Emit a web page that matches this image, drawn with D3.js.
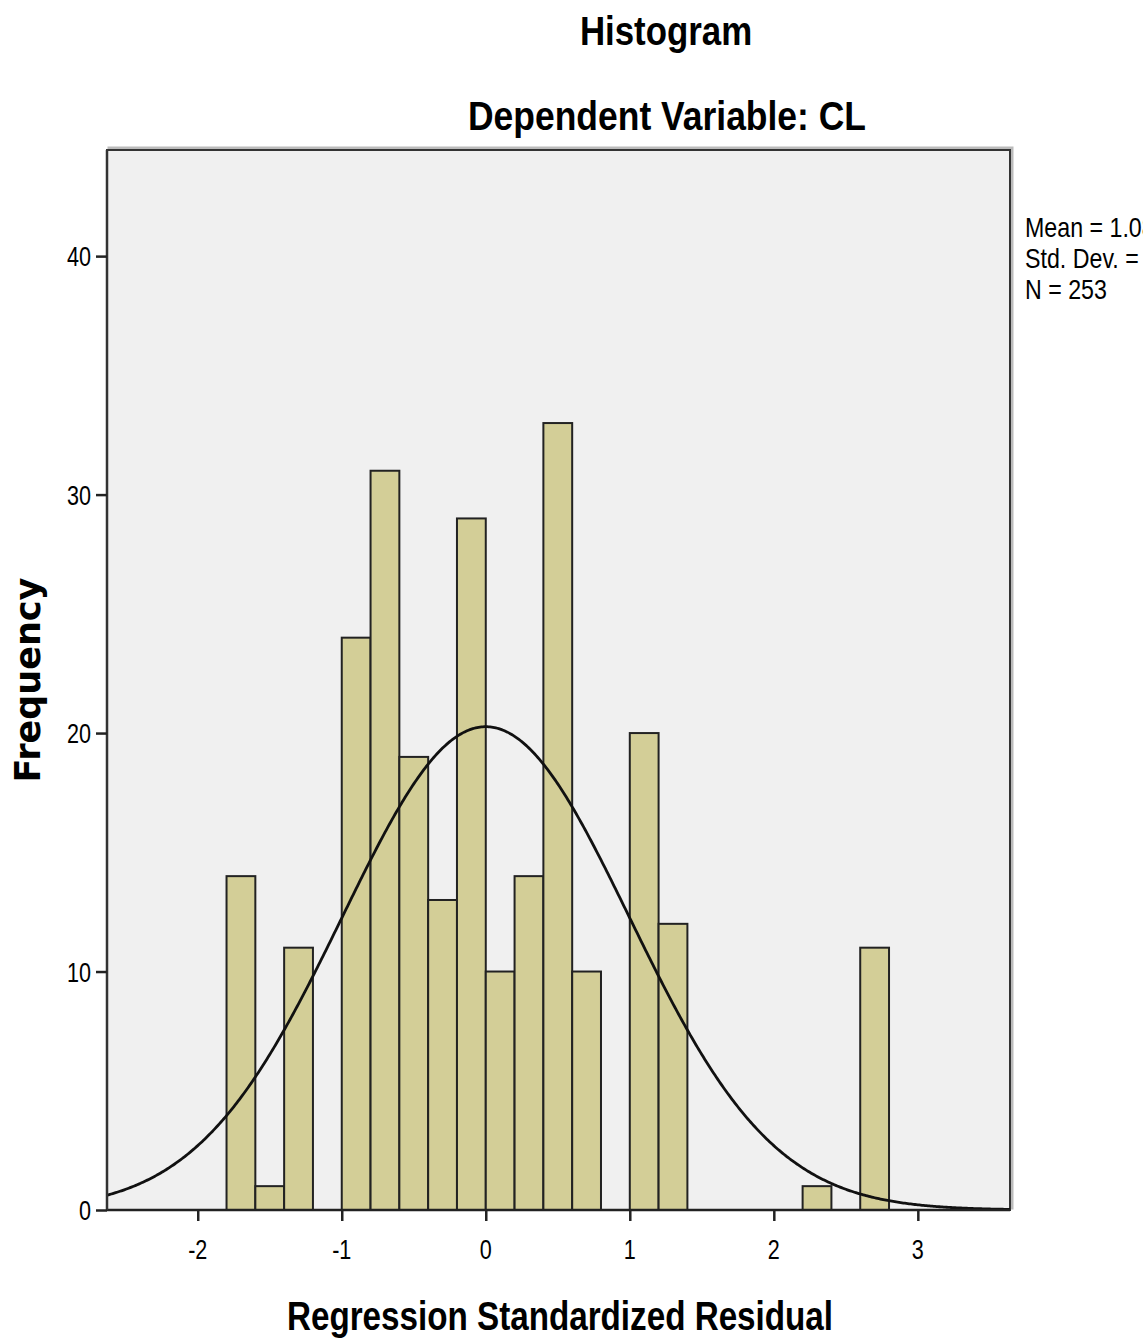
<!DOCTYPE html>
<html>
<head>
<meta charset="utf-8">
<script src="https://cdn.jsdelivr.net/npm/d3@7"></script>
<style>
  body { margin: 0; background: #fff; }
  text { font-family: "Liberation Sans", Arial, sans-serif; fill: #000; }
</style>
</head>
<body>
<svg id="chart" width="1143" height="1342"></svg>
<script>
// histogram bins: lower edge of each 0.2 wide bin, and its count
var binStarts = [-1.8, -1.6, -1.4, -1.2, -1.0, -0.8, -0.6, -0.4, -0.2, 0.0, 0.2, 0.4, 0.6, 0.8, 1.0, 1.2, 1.4, 1.6, 1.8, 2.0, 2.2, 2.4, 2.6];
var counts    = [14,   1,    11,   0,    24,   31,   19,   13,   29,   10,  14,  33,  10,  0,   20,  12,  0,   0,   0,   0,   1,   0,   11];
var binWidth = 0.2;
var xTicks = [-2, -1, 0, 1, 2, 3];
var yTicks = [0, 10, 20, 30, 40];
var stats = { mean: 0, sd: 0.996, n: 253 };
var legendLines = ['Mean = 1.08E-15', 'Std. Dev. = 0.996', 'N = 253'];

const svg = d3.select('#chart');
const pLeft = 107, pRight = 1010, pTop = 150, pBottom = 1210;

var x = d3.scaleLinear().domain([-2.63, 3.64]).range([pLeft, pRight]);
var y = d3.scaleLinear().domain([0, 44.45]).range([pBottom, pTop]);

// narrow tall text like the SPSS export
function label(txt, px, py, size, opts) {
  opts = opts || {};
  const sx = opts.sx || 0.8;
  const rot = opts.rotate ? ' rotate(-90)' : '';
  const t = svg.append('text')
    .attr('transform', 'translate(' + px + ',' + py + ')' + rot + ' scale(' + sx + ',1)')
    .attr('text-anchor', opts.anchor || 'middle')
    .style('font-size', size + 'px')
    .style('font-weight', opts.bold ? 'bold' : 'normal')
    .text(txt);
  if (opts.family) t.style('font-family', opts.family);
  return t;
}

// plot background with a soft shadow frame
svg.append('rect').attr('x', pLeft + 2).attr('y', pTop - 2).attr('width', pRight - pLeft).attr('height', pBottom - pTop)
  .attr('fill', 'none').attr('stroke', '#bbb').attr('stroke-width', 3);
svg.append('rect').attr('x', pLeft).attr('y', pTop).attr('width', pRight - pLeft).attr('height', pBottom - pTop)
  .attr('fill', '#f0f0f0').attr('stroke', '#333').attr('stroke-width', 2);

var bars = binStarts.map((s, i) => ({ x0: s, x1: s + binWidth, count: counts[i] })).filter(d => d.count > 0);

svg.append('g').selectAll('rect').data(bars).enter().append('rect')
  .attr('x', d => x(d.x0))
  .attr('y', d => y(d.count))
  .attr('width', d => x(d.x1) - x(d.x0))
  .attr('height', d => y(0) - y(d.count))
  .attr('fill', '#d3ce97')
  .attr('stroke', '#222')
  .attr('stroke-width', 2);

// normal curve scaled to counts
var curvePts = d3.range(-2.63, 3.645, 0.01).map(v => {
  const z = (v - stats.mean) / stats.sd;
  return [v, stats.n * binWidth / (stats.sd * Math.sqrt(2 * Math.PI)) * Math.exp(-0.5 * z * z)];
});
svg.append('path').datum(curvePts)
  .attr('d', d3.line().x(d => x(d[0])).y(d => y(d[1])))
  .attr('fill', 'none').attr('stroke', '#111').attr('stroke-width', 2.8);

// redraw bottom/left border over bars
svg.append('line').attr('x1', pLeft).attr('x2', pRight).attr('y1', pBottom).attr('y2', pBottom).attr('stroke', '#222').attr('stroke-width', 2.5);
svg.append('line').attr('x1', pLeft).attr('x2', pLeft).attr('y1', pTop).attr('y2', pBottom).attr('stroke', '#333').attr('stroke-width', 2.5);

// axes
var xAxis = svg.append('g').attr('transform', 'translate(0,' + pBottom + ')')
  .call(d3.axisBottom(x).tickValues(xTicks).tickSize(11).tickFormat(''));
var yAxis = svg.append('g').attr('transform', 'translate(' + pLeft + ',0)')
  .call(d3.axisLeft(y).tickValues(yTicks).tickSize(11).tickFormat(''));
[xAxis, yAxis].forEach(a => {
  a.select('.domain').remove();
  a.selectAll('.tick line').attr('stroke', '#222').attr('stroke-width', 2.5);
});

xTicks.forEach(t => label(String(t), x(t), 1259, 27));
yTicks.forEach(t => label(String(t), 91, y(t) + 10, 27, { anchor: 'end' }));

// titles
label('Histogram', 666, 45, 41, { bold: true, sx: 0.85 });
label('Dependent Variable: CL', 667, 130, 41, { bold: true, sx: 0.865 });
label('Regression Standardized Residual', 560, 1330, 41, { bold: true, sx: 0.81 });
label('Frequency', 40, 680, 35, { bold: true, sx: 1.0, rotate: true, family: '"DejaVu Sans", Verdana, sans-serif' });

// legend (the reference is cut off at the right edge)
legendLines.forEach((l, i) => label(l, 1025, 237 + i * 31, 27, { anchor: 'start', sx: 0.86 }));
</script>
</body>
</html>
